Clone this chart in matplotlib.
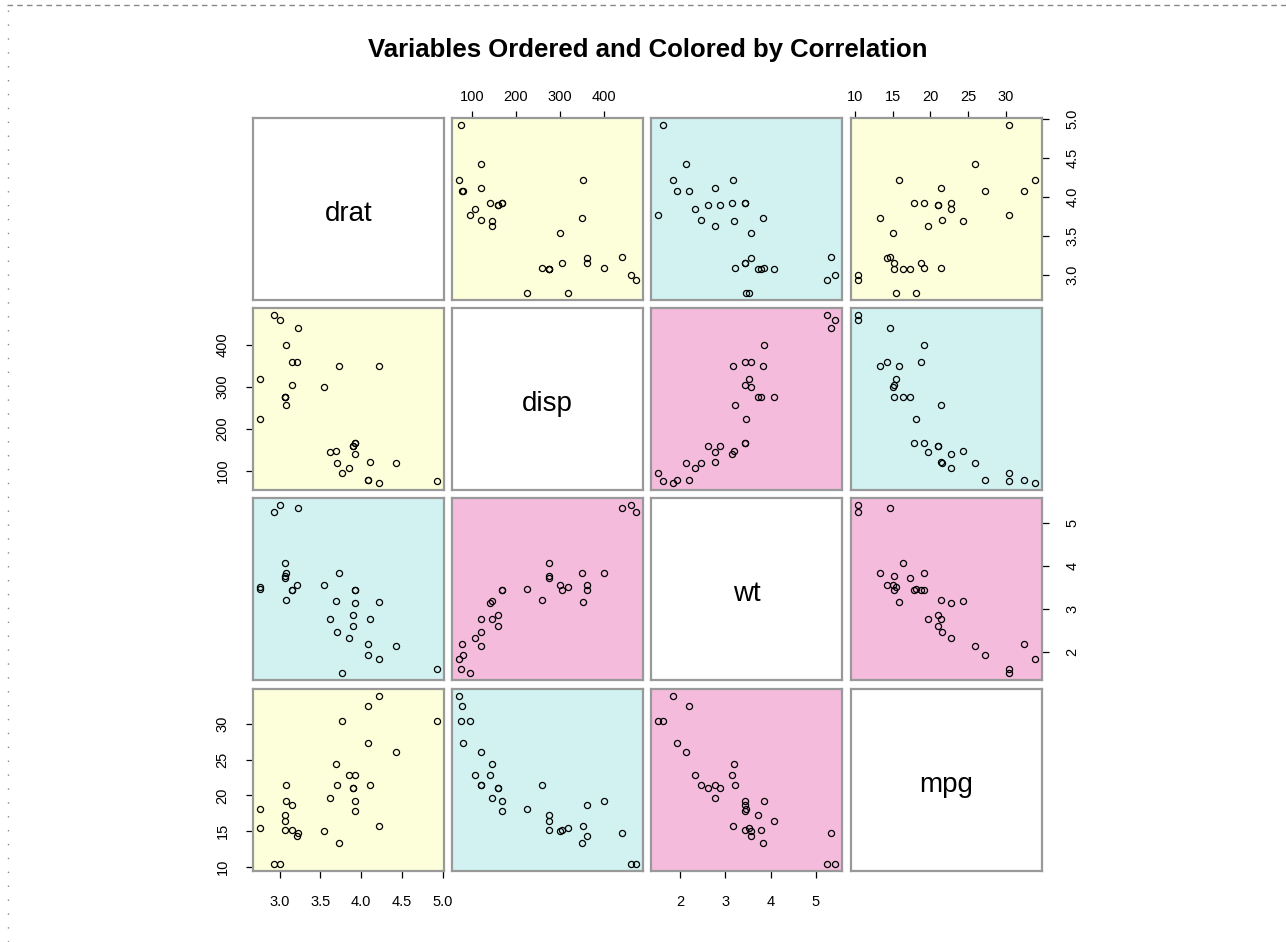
import numpy as np
import matplotlib
matplotlib.use("Agg")
import matplotlib.pyplot as plt
from matplotlib.lines import Line2D

plt.rcParams['font.family'] = ['Liberation Sans', 'DejaVu Sans']

# mtcars columns, in the order they are drawn
names = ["drat", "disp", "wt", "mpg"]
drat = [3.90, 3.90, 3.85, 3.08, 3.15, 2.76, 3.21, 3.69, 3.92, 3.92, 3.92,
        3.07, 3.07, 3.07, 2.93, 3.00, 3.23, 4.08, 4.93, 4.22, 3.70, 2.76,
        3.15, 3.73, 3.08, 4.08, 4.43, 3.77, 4.22, 3.62, 3.54, 4.11]
disp = [160.0, 160.0, 108.0, 258.0, 360.0, 225.0, 360.0, 146.7, 140.8,
        167.6, 167.6, 275.8, 275.8, 275.8, 472.0, 460.0, 440.0, 78.7, 75.7,
        71.1, 120.1, 318.0, 304.0, 350.0, 400.0, 79.0, 120.3, 95.1, 351.0,
        145.0, 301.0, 121.0]
wt = [2.620, 2.875, 2.320, 3.215, 3.440, 3.460, 3.570, 3.190, 3.150, 3.440,
      3.440, 4.070, 3.730, 3.780, 5.250, 5.424, 5.345, 2.200, 1.615, 1.835,
      2.465, 3.520, 3.435, 3.840, 3.845, 1.935, 2.140, 1.513, 3.170, 2.770,
      3.570, 2.780]
mpg = [21.0, 21.0, 22.8, 21.4, 18.7, 18.1, 14.3, 24.4, 22.8, 19.2, 17.8,
       16.4, 17.3, 15.2, 10.4, 10.4, 14.7, 32.4, 30.4, 33.9, 21.5, 15.5,
       15.2, 13.3, 19.2, 27.3, 26.0, 30.4, 15.8, 19.7, 15.0, 21.4]
data = [np.array(drat), np.array(disp), np.array(wt), np.array(mpg)]

ticks = [[3.0, 3.5, 4.0, 4.5, 5.0], [100, 200, 300, 400], [2, 3, 4, 5],
         [10, 15, 20, 25, 30]]
tick_labels = [["3.0", "3.5", "4.0", "4.5", "5.0"], ["100", "200", "300", "400"],
               ["2", "3", "4", "5"], ["10", "15", "20", "25", "30"]]

# panel colours: low, medium, high |correlation|
panel_cols = ["#FDFFDA", "#D1F2F1", "#F4BBDD"]

n = len(names)
corr = np.abs(np.corrcoef(np.vstack(data)))
pairs = [(i, j) for i in range(n) for j in range(i + 1, n)]
order = np.argsort([corr[i, j] for i, j in pairs], kind="stable")
pair_col = {}
for rank, k in enumerate(order):
    i, j = pairs[k]
    pair_col[(i, j)] = pair_col[(j, i)] = panel_cols[rank * 3 // len(pairs)]

W, H = 1286, 942
fig = plt.figure(figsize=(W / 100, H / 100), dpi=100)

xs = [253, 452, 651, 851]
ys = [118, 308, 498, 689]
pw, ph = 191, 182


def lims(v):
    r = v.max() - v.min()
    return v.min() - 0.04 * r, v.max() + 0.04 * r


for i in range(n):
    for j in range(n):
        ax = fig.add_axes([xs[j] / W, 1 - (ys[i] + ph) / H, pw / W, ph / H])
        ax.set_xlim(lims(data[j]))
        ax.set_ylim(lims(data[i]))
        for s in ax.spines.values():
            s.set_color("#999999")
            s.set_linewidth(1.6)
        ax.tick_params(length=5, width=0.9, labelsize=10.5, pad=3,
                       direction="out", color="black")
        ax.set_xticks([])
        ax.set_yticks([])
        if i == j:
            ax.set_facecolor("white")
            ax.text(0.5, 0.5 - 5 / ph, names[i], transform=ax.transAxes,
                    ha="center", va="center", fontsize=20)
        else:
            ax.set_facecolor(pair_col[(i, j)])
            ax.plot(data[j], data[i], "o", mfc="none", mec="black", ms=4.4,
                    mew=0.9)
        # outer axes alternate sides as in R's pairs()
        if i == 0 and j % 2 == 1:
            ax.xaxis.tick_top()
            ax.set_xticks(ticks[j], tick_labels[j])
            ax.tick_params(axis="x", pad=5)
        if i == n - 1 and j % 2 == 0:
            ax.set_xticks(ticks[j], tick_labels[j])
            ax.tick_params(axis="x", pad=12)
        if j == 0 and i % 2 == 1:
            ax.set_yticks(ticks[i], tick_labels[i])
            for t in ax.get_yticklabels():
                t.set_rotation(90)
                t.set_va("center")
            ax.tick_params(axis="y", pad=12)
        if j == n - 1 and i % 2 == 0:
            ax.yaxis.tick_right()
            ax.set_yticks(ticks[i], tick_labels[i])
            for t in ax.get_yticklabels():
                t.set_rotation(90)
                t.set_va("center")
            ax.tick_params(axis="y", pad=12)

fig.text((xs[0] + xs[-1] + pw) / 2 / W, 1 - 50 / H,
         "Variables Ordered and Colored by Correlation", ha="center",
         va="center", fontsize=18.5, fontweight="bold")

# dashed frame along the top and left edges
fig.add_artist(Line2D([7 / W, 1], [1 - 5 / H, 1 - 5 / H], color="#888888",
                      lw=1, ls=(0, (4, 3)), transform=fig.transFigure))
fig.add_artist(Line2D([8 / W, 8 / W], [0, 1 - 8 / H], color="#888888",
                      lw=1, ls=(0, (1, 9)), transform=fig.transFigure))

fig.savefig("out.png", dpi=100)
